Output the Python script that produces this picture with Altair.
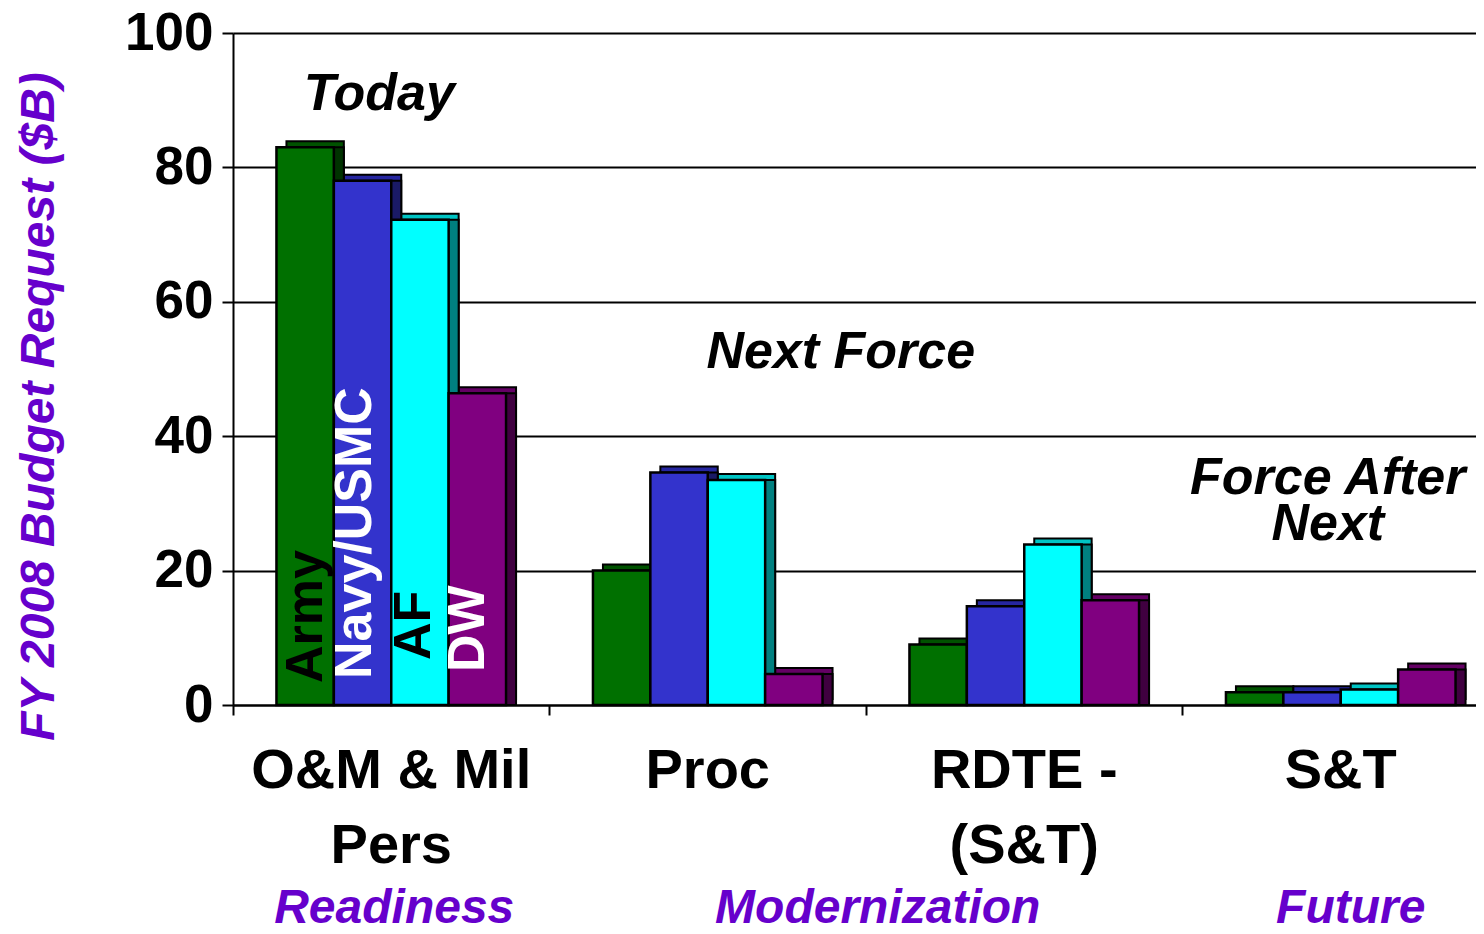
import altair as alt
import pandas as pd

categories = ["O&M & Mil\nPers", "Proc", "RDTE -\n(S&T)", "S&T"]
services = ["Army", "Navy/USMC", "AF", "DW"]
army = [83.0, 20.0, 9.0, 1.9]
navy = [78.0, 34.6, 14.7, 1.9]
af = [72.2, 33.5, 23.9, 2.3]
dw = [46.4, 4.6, 15.6, 5.3]
group_names = ["Readiness", "Modernization", "Future"]
y_ticks = [0, 20, 40, 60, 80, 100]

FONT = "Liberation Sans"
PURPLE = "#6600CC"
BAND = 316.5
DEPTH_X = 10
front_col = {"Army": "#007000", "Navy/USMC": "#3333CC", "AF": "#00FFFF", "DW": "#800080"}
top_col = {"Army": "#005200", "Navy/USMC": "#2626A0", "AF": "#00C4C4", "DW": "#640064"}
side_col = {"Army": "#003300", "Navy/USMC": "#1A1A66", "AF": "#008080", "DW": "#400040"}

rows = []
for svc, vals in zip(services, [army, navy, af, dw]):
    for cat, v in zip(categories, vals):
        rows.append({"cat": cat, "service": svc, "value": v,
                     "front": front_col[svc], "top": top_col[svc], "side": side_col[svc]})
df = pd.DataFrame(rows)

x_enc = alt.X("cat:N", sort=categories,
              scale=alt.Scale(domain=categories, range=[0, 4 * BAND],
                              paddingInner=0, paddingOuter=0),
              axis=alt.Axis(title=None, bandPosition=0, labelAngle=0,
                            labelExpr="split(datum.label, '\\n')", labelLimit=600,
                            labelFont=FONT, labelFontSize=56, labelFontWeight="bold",
                            labelColor="black", labelBaseline="top", labelLineHeight=75,
                            labelPadding=28, tickSize=10, tickColor="black", tickWidth=2,
                            domainColor="black", domainWidth=2, grid=False))


def xo(shift):
    return alt.XOffset("service:N",
                       scale=alt.Scale(domain=services, range=[shift, BAND + shift],
                                       paddingInner=0, paddingOuter=0.757))


xo_point = alt.XOffset("service:N",
                       scale=alt.Scale(type="point", domain=services, range=[0, BAND],
                                       padding=1.257))

y_enc = alt.Y("value:Q", scale=alt.Scale(domain=[0, 100], nice=False),
              axis=alt.Axis(values=y_ticks, title="FY 2008 Budget Request ($B)",
                            titleFont=FONT, titleFontSize=48, titleFontWeight="bold",
                            titleFontStyle="italic", titleColor=PURPLE,
                            titleAngle=270, titleX=-180, titleY=373,
                            titleAlign="center", titleBaseline="alphabetic",
                            labelFont=FONT, labelFontSize=53, labelFontWeight="bold",
                            labelColor="black", labelPadding=9, tickSize=11,
                            tickColor="black", tickWidth=2, domainColor="black",
                            domainWidth=2, grid=True, gridColor="black", gridWidth=2))

base = alt.Chart(df)
top_layer = base.mark_bar(yOffset=-6, y2Offset=-6, stroke="black", strokeWidth=2).encode(
    x=x_enc, xOffset=xo(DEPTH_X), y=y_enc, color=alt.Color("top:N", scale=None))
side_layer = base.mark_bar(yOffset=0, y2Offset=-6, stroke="black", strokeWidth=2).encode(
    x=x_enc, xOffset=xo(DEPTH_X), y=y_enc, color=alt.Color("side:N", scale=None))
front_layer = base.mark_bar(stroke="black", strokeWidth=2.5).encode(
    x=x_enc, xOffset=xo(0), y=y_enc, color=alt.Color("front:N", scale=None))

layers = [top_layer, side_layer, front_layer]

# service labels inside first group
label_style = {"Army": ("black", 22, 10), "Navy/USMC": ("white", 26, -5),
               "AF": ("black", 45, -9), "DW": ("white", 33, -18)}
for svc in services:
    col, dxv, dyv = label_style[svc]
    sub = pd.DataFrame({"cat": [categories[0]], "service": [svc]})
    layers.append(
        alt.Chart(sub)
        .mark_text(angle=270, align="left", baseline="middle", font=FONT, fontSize=52,
                   fontWeight="bold", color=col, dx=dxv, dy=dyv)
        .encode(x=alt.X("cat:N", sort=categories), xOffset=xo_point,
                y=alt.datum(0), text="service:N"))


def annot(text, cat, yval, dxv, size=52):
    sub = pd.DataFrame({"t": [text], "cat": [cat]})
    return alt.Chart(sub).mark_text(
        font=FONT, fontSize=size, fontWeight="bold", fontStyle="italic",
        color="black", align="center", baseline="alphabetic", dx=dxv).encode(
        x=alt.X("cat:N", sort=categories), y=alt.datum(yval), text="t:N")


layers.append(annot("Today", categories[0], 88.5, -12))
layers.append(annot("Next Force", categories[1], 50.1, 133))
layers.append(annot("Force After", categories[3], 31.4, -13))
layers.append(annot("Next", categories[3], 24.6, -13))


def group_label(text, cat, dxv):
    sub = pd.DataFrame({"t": [text], "cat": [cat]})
    return alt.Chart(sub).mark_text(
        font=FONT, fontSize=48, fontWeight="bold", fontStyle="italic",
        color=PURPLE, align="center", baseline="alphabetic", dx=dxv).encode(
        x=alt.X("cat:N", sort=categories), y=alt.value(890), text="t:N")


layers.append(group_label(group_names[0], categories[0], 3))
layers.append(group_label(group_names[1], categories[1], 170))
layers.append(group_label(group_names[2], categories[3], 10))

chart = alt.layer(*layers).resolve_scale(xOffset="independent").properties(
    width=1243, height=672,
    autosize=alt.AutoSizeParams(type="none"),
    padding={"left": 225, "top": 25, "right": 0, "bottom": 221},
).configure_view(stroke=None)

chart.save("out.html", embed_options={"renderer": "svg", "actions": False})
